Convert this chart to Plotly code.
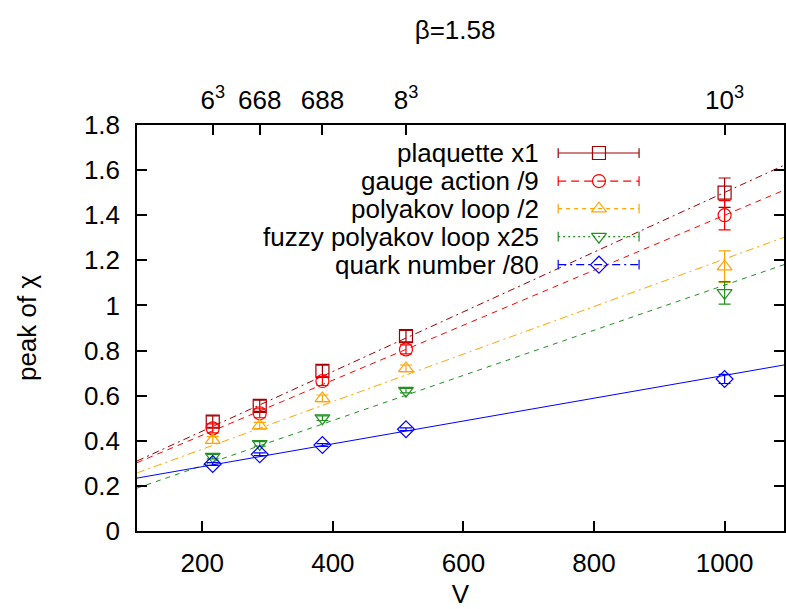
import plotly.graph_objects as go

# ---- data ----
V = [216, 288, 384, 512, 1000]
top_tick_vals = [216, 288, 384, 512, 1000]
top_tick_text = ["6<sup>3</sup>", "668", "688", "8<sup>3</sup>", "10<sup>3</sup>"]

names = ["plaquette x1", "gauge action /9", "polyakov loop /2",
         "fuzzy polyakov loop x25", "quark number /80"]

plaquette = [0.485, 0.555, 0.71, 0.864, 1.50]
plaquette_err = [0.025, 0.025, 0.025, 0.025, 0.065]
gauge = [0.455, 0.522, 0.665, 0.805, 1.40]
gauge_err = [0.02, 0.02, 0.02, 0.02, 0.065]
polyakov = [0.403, 0.467, 0.588, 0.721, 1.172]
polyakov_err = [0.015, 0.015, 0.015, 0.015, 0.07]
fuzzy = [0.33, 0.386, 0.50, 0.622, 1.056]
fuzzy_err = [0.01, 0.01, 0.01, 0.01, 0.05]
quark = [0.297, 0.34, 0.381, 0.451, 0.674]
quark_err = [0.006, 0.006, 0.006, 0.006, 0.02]

# linear fits: (slope, intercept)
fit_slope = [0.001323, 0.001219, 0.001054, 0.001000, 0.000506]
fit_icept = [0.178, 0.181, 0.152, 0.090, 0.184]

# ---- styles ----
colors = ["#a00000", "#ff0000", "#ffa500", "#209020", "#0000ff"]
symbols = ["square-open", "circle-open", "triangle-up-open", "triangle-down-open", "diamond-open"]
fit_dash = ["7px,4px,2px,4px", "6px,5px", "8px,4px,2px,4px", "5px,5px", "solid"]
leg_dash = ["solid", "8px,5px", "4px,4px", "2px,3px", "8px,4px,2px,4px"]

series = [plaquette, gauge, polyakov, fuzzy, quark]
errs = [plaquette_err, gauge_err, polyakov_err, fuzzy_err, quark_err]

XMIN, XMAX = 100, 1091
FONT = "Liberation Sans, Arial, sans-serif"
FS = 26

fig = go.Figure()

for i in range(5):
    xs = [XMIN, XMAX]
    ys = [fit_icept[i] + fit_slope[i] * x for x in xs]
    fig.add_trace(go.Scatter(x=xs, y=ys, mode="lines",
                             line=dict(color=colors[i], width=1, dash=fit_dash[i]),
                             showlegend=False, hoverinfo="skip"))

for i in range(5):
    fig.add_trace(go.Scatter(
        x=V, y=series[i], mode="markers", name=names[i],
        marker=dict(symbol=symbols[i], size=13, color=colors[i], line=dict(width=1.2, color=colors[i])),
        error_y=dict(type="data", array=errs[i], color=colors[i], thickness=1.2, width=6),
        showlegend=False))

# top axis dummy trace
fig.add_trace(go.Scatter(x=[XMIN, XMAX], y=[0, 0], xaxis="x2", mode="lines",
                         line=dict(width=0), showlegend=False, hoverinfo="skip"))

# manual legend on overlay axes (fractions of plot area)
leg_y = [0.931, 0.862, 0.794, 0.725, 0.656]
lx0, lx1, lxm = 0.651, 0.776, 0.714
for i in range(5):
    fig.add_trace(go.Scatter(
        x=[lx0, lx1], y=[leg_y[i], leg_y[i]], xaxis="x3", yaxis="y3", mode="lines",
        line=dict(color=colors[i], width=1.2, dash=leg_dash[i]),
        error_y=dict(type="constant", value=0.012, color=colors[i], thickness=1.2, width=0),
        showlegend=False, hoverinfo="skip"))
    fig.add_trace(go.Scatter(
        x=[lxm], y=[leg_y[i]], xaxis="x3", yaxis="y3", mode="markers",
        marker=dict(symbol=symbols[i], size=13, color=colors[i], line=dict(width=1.2, color=colors[i])),
        showlegend=False, hoverinfo="skip"))
    fig.add_annotation(x=0.624, y=leg_y[i], xref="x3", yref="y3", text=names[i],
                       showarrow=False, xanchor="right", yanchor="middle",
                       font=dict(family=FONT, size=FS, color="black"))

axis_common = dict(showgrid=False, zeroline=False, ticks="inside", ticklen=10,
                   tickwidth=1.5, tickcolor="black", linecolor="black", linewidth=1.5,
                   tickfont=dict(family=FONT, size=FS, color="black"))

fig.update_layout(
    width=786, height=609,
    margin=dict(l=137, r=0, t=125, b=78),
    plot_bgcolor="white", paper_bgcolor="white",
    font=dict(family=FONT, size=FS, color="black"),
    title=dict(text="β=1.58", x=0.579, xanchor="center", y=1 - 30 / 609, yanchor="middle",
               font=dict(family=FONT, size=FS, color="black")),
    xaxis=dict(range=[XMIN, XMAX], tickvals=[200, 400, 600, 800, 1000], showline=True, mirror=False,
               ticklabelstandoff=8,
               title=dict(text="V", standoff=10, font=dict(family=FONT, size=FS)), **axis_common),
    xaxis2=dict(range=[XMIN, XMAX], overlaying="x", side="top", tickvals=top_tick_vals,
                ticktext=top_tick_text, showline=True, ticklabelstandoff=4, **axis_common),
    yaxis=dict(range=[0, 1.8], dtick=0.2, showline=True, mirror="ticks", ticklabelstandoff=10,
               title=dict(text="peak of χ", standoff=40, font=dict(family=FONT, size=FS)), **axis_common),
    xaxis3=dict(range=[0, 1], overlaying="x", visible=False, showgrid=False, zeroline=False),
    yaxis3=dict(range=[0, 1], overlaying="y", visible=False, showgrid=False, zeroline=False),
)

fig.write_html("out.html")
